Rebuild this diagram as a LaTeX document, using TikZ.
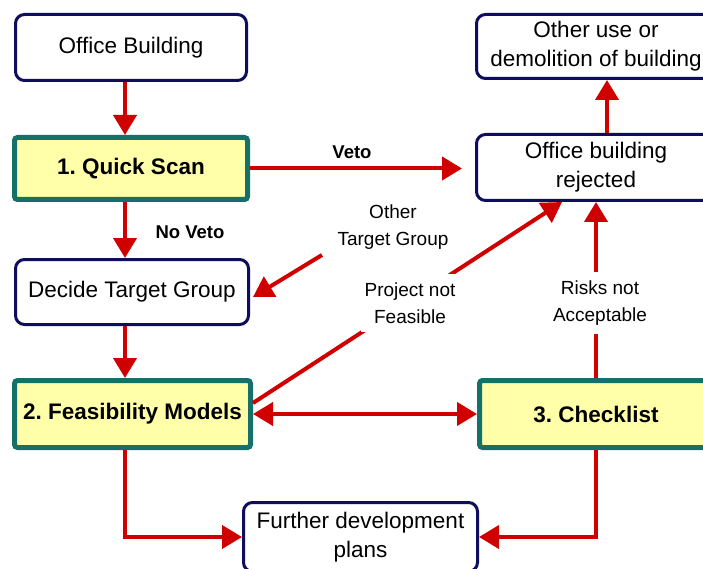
\documentclass[tikz,border=0pt]{standalone}
\usepackage{fontspec}
\setmainfont{Liberation Sans}
\usetikzlibrary{arrows.meta,calc}
\definecolor{boxnavy}{RGB}{14,14,92}
\definecolor{stepteal}{RGB}{22,112,106}
\definecolor{stepfill}{RGB}{255,255,170}
\definecolor{flowred}{RGB}{208,0,0}
\frenchspacing
\begin{document}
\begin{tikzpicture}[x=1pt,y=-1pt,
  >={Triangle[length=20pt,width=23pt]},
  plainbox/.style={draw=boxnavy, line width=3pt, rounded corners=9pt, fill=white,
    align=center, inner sep=0pt, font=\fontsize{22.5}{29}\selectfont},
  stepbox/.style={draw=stepteal, line width=5pt, rounded corners=3pt, fill=stepfill,
    align=center, inner sep=0pt, font=\bfseries\fontsize{22.5}{29}\selectfont},
  flow/.style={draw=flowred, line width=4pt, ->},
  lbl/.style={align=center, font=\fontsize{19}{27}\selectfont},
  masklbl/.style={lbl, fill=white, inner xsep=4pt, inner ysep=9pt},
  boldlbl/.style={font=\bfseries\fontsize{18.5}{22}\selectfont}]
\useasboundingbox (0,0) rectangle (703,569);
\clip (0,0) rectangle (703,569);
\fill[white] (0,0) rectangle (703,569);

% process boxes
\node[plainbox, minimum width=231pt, minimum height=66pt] (ob) at (131,47.5) {Office Building};
\node[stepbox, minimum width=233pt, minimum height=62pt] (qs) at (131,168.5) {1. Quick Scan};
\node[plainbox, minimum width=233pt, minimum height=65pt] (dtg) at (132,292) {Decide Target Group};
\node[stepbox, minimum width=236pt, minimum height=67pt] (fm) at (132.5,414) {2. Feasibility Models};
\node[stepbox, minimum width=233pt, minimum height=67pt] (cl) at (596,414) {3. Checklist};
\node[plainbox, minimum width=239pt, minimum height=64pt] (other) at (596,46.5) {Other use or\\demolition of building};
\node[plainbox, minimum width=239pt, minimum height=66pt] (rej) at (596,167.5) {Office building\\rejected};
\node[plainbox, minimum width=234pt, minimum height=69pt] (fdp) at (360.5,537) {Further development\\plans};

% helper coordinates
\coordinate (spine) at (125,0);
\coordinate (vetoend) at (462,168.5);
\coordinate (otgstart) at (322,255);

% connectors
\draw[flow] (ob.south -| spine) -- (qs.north -| spine);
\draw[flow] (qs.south -| spine) -- (dtg.north -| spine);
\draw[flow] (dtg.south -| spine) -- (fm.north -| spine);
\draw[flow] (qs.east) -- (vetoend);
\draw[flow] (otgstart) -- ($(dtg.east)+(3,5)$);
\draw[flow] ($(fm.east)+(0,-11)$) -- ($(rej.south)+(-34,0)$);
\draw[flow] (cl.north) -- (rej.south);
\draw[flow] ($(rej.north)+(11,0)$) -- ($(other.south)+(11,0)$);
\draw[flow, <->] (fm.east) -- (cl.west);
\draw[flow] (fm.south -| spine) |- (fdp.west);
\draw[flow] (cl.south) |- (fdp.east);

% labels
\node[boldlbl] (veto) at (352,152) {Veto};
\node[boldlbl] (noveto) at (190,232) {No Veto};
\node[lbl] (otg) at (393,227) {Other\\Target Group};
\node[masklbl] (pnf) at (410,303) {Project not\\Feasible};
\node[masklbl] (rna) at (600,303) {Risks not\\Acceptable};
\end{tikzpicture}
\end{document}
